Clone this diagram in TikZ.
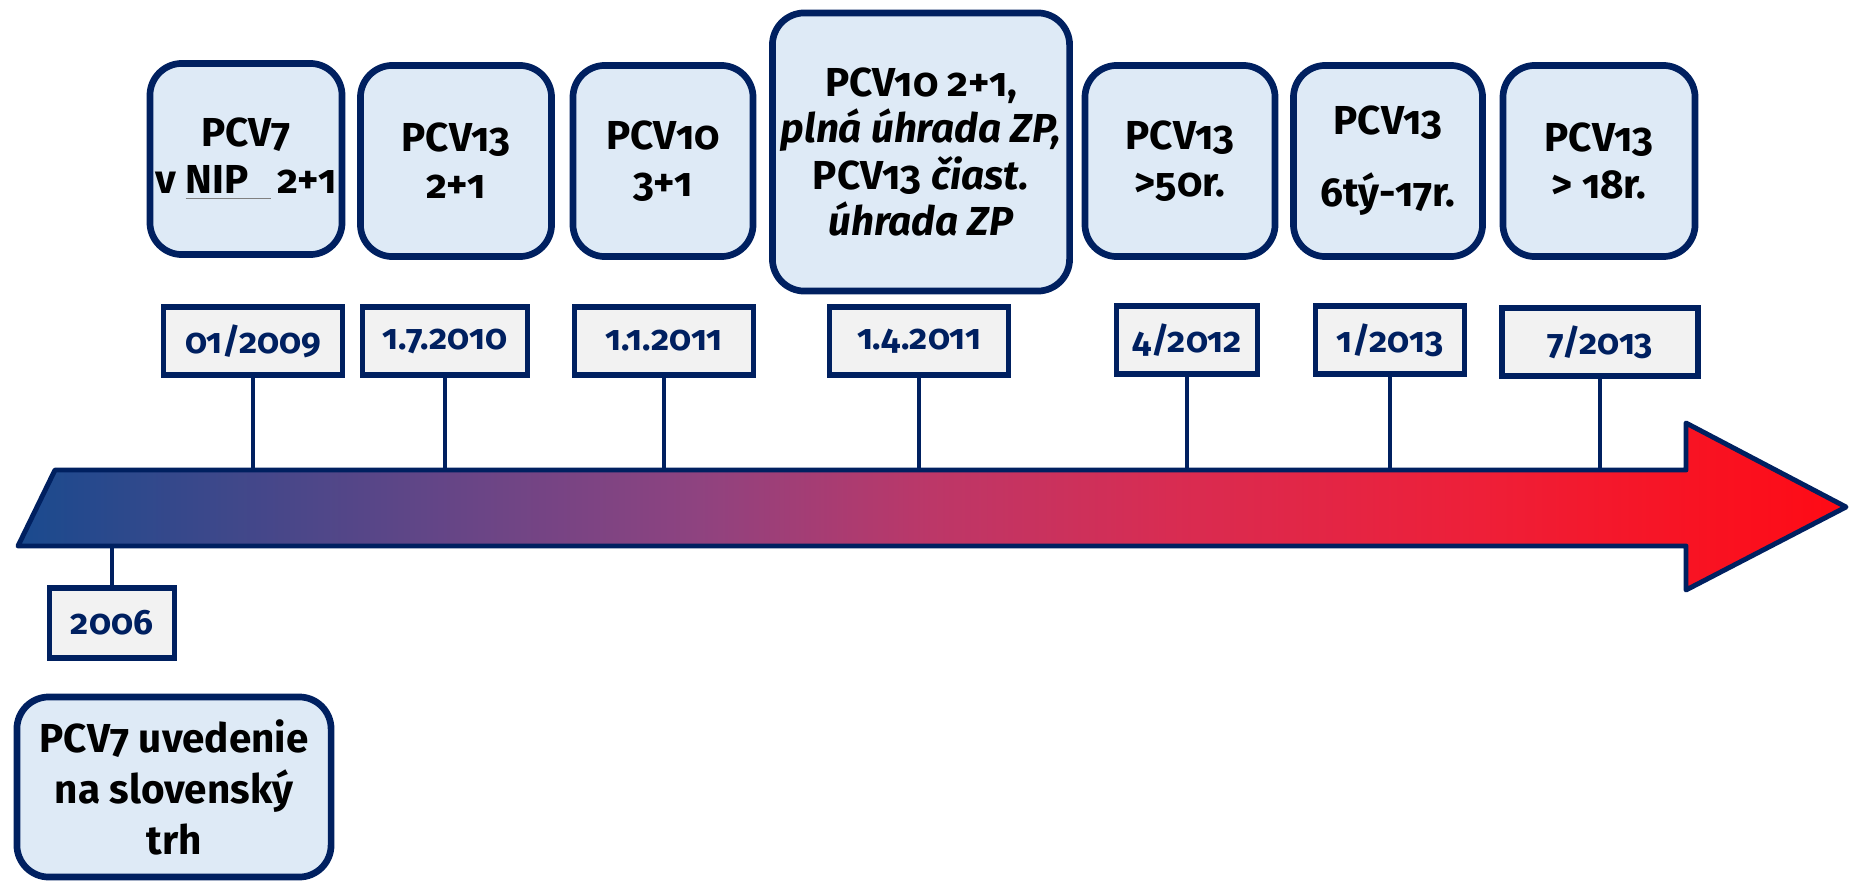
\documentclass[tikz,border=0pt]{standalone}
\usepackage{fontspec}
\setmainfont{Fira Sans}[Numbers=OldStyle]
\definecolor{navy}{HTML}{002060}
\definecolor{boxfill}{HTML}{DEEAF6}
\definecolor{datefill}{HTML}{F2F2F2}
\definecolor{startblue}{HTML}{1A4A8E}
\definecolor{stopa}{HTML}{6A4586}
\definecolor{stopb}{HTML}{8E4380}
\definecolor{stopc}{HTML}{BC3768}
\definecolor{stopd}{HTML}{D82C52}
\definecolor{stope}{HTML}{EE1F38}
\definecolor{endred}{HTML}{FF0A14}
\pgfdeclarehorizontalshading{timeshade}{100bp}{
  color(0bp)=(startblue); color(25bp)=(startblue);
  color(37.5bp)=(stopa); color(43.5bp)=(stopb);
  color(50bp)=(stopc); color(56.5bp)=(stopd);
  color(65bp)=(stope); color(75bp)=(endred); color(100bp)=(endred)}
\begin{document}
\begin{tikzpicture}[x=0.01cm, y=-0.01cm,
  evbox/.style={draw=navy, line width=1.9pt, fill=boxfill, rounded corners=0.32cm,
    align=center, inner sep=0pt, minimum width=1.92cm, minimum height=1.91cm,
    font=\fontsize{11.5}{13.4}\selectfont\bfseries},
  datebox/.style={draw=navy, line width=1.55pt, fill=datefill, text=navy,
    inner sep=0pt, minimum height=0.68cm, font=\fontsize{10}{12}\selectfont\bfseries},
  stemline/.style={navy, line width=1.25pt}]
\useasboundingbox (0,0) rectangle (1852,885);
\coordinate (axtop) at (0,470);
\coordinate (axbot) at (0,546);
\draw[navy, line width=1.4pt, line join=round, shading=timeshade]
  (55,470) -- (1686,470) -- (1686,423) -- (1846,507) -- (1686,590) -- (1686,546) -- (18,546) -- cycle;
\node[evbox] (ev1) at (246,159){PCV7\\ v \textcolor{gray}{\underline{\textcolor{black}{NIP}\hspace{.55em}}}\,2+1};
\node[evbox, minimum width=1.91cm] (ev2) at (456,161){PCV13\\2+1};
\node[evbox, minimum width=1.80cm] (ev3) at (663,161){PCV10\\3+1};
\node[evbox, minimum width=2.97cm, minimum height=2.78cm, font=\fontsize{11.5}{13.2}\selectfont\bfseries] (ev4) at (921,152){PCV10 2+1,\\\textit{plná úhrada ZP,}\\PCV13 \textit{čiast.}\\\textit{úhrada ZP}};
\node[evbox, minimum width=1.90cm] (ev5) at (1180,161){PCV13\\>50r.};
\node[evbox, minimum width=1.89cm] (ev6) at (1388,161){PCV13\\[7pt]6tý-17r.};
\node[evbox, minimum width=1.92cm] (ev7) at (1599,161){PCV13\\> 18r.};
\node[evbox, minimum width=3.14cm, minimum height=1.80cm, font=\fontsize{11.5}{14.5}\selectfont\bfseries] (ev0) at (174,787){PCV7 uvedenie\\na slovenský\\trh};
\node[datebox, minimum width=1.79cm] (d1) at (253,341){01/2009};
\node[datebox, minimum width=1.65cm] (d2) at (445,341){1.7.2010};
\node[datebox, minimum width=1.79cm] (d3) at (664,341){1.1.2011};
\node[datebox, minimum width=1.79cm] (d4) at (919,341){1.4.2011};
\node[datebox, minimum width=1.41cm] (d5) at (1187,340){4/2012};
\node[datebox, minimum width=1.49cm] (d6) at (1390,340){1/2013};
\node[datebox, minimum width=1.96cm] (d7) at (1600,342){7/2013};
\node[datebox, minimum width=1.25cm, minimum height=0.70cm] (d0) at (112,623){2006};
\foreach \d in {d1,d2,d3,d4,d5,d6,d7}
  \draw[stemline] (\d.south) -- (\d.south |- axtop);
\draw[stemline] (d0.north) -- (d0.north |- axbot);
\end{tikzpicture}
\end{document}
